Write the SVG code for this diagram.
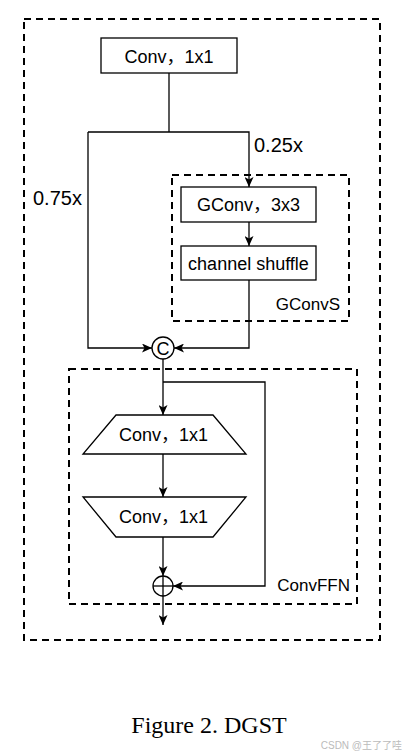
<svg xmlns="http://www.w3.org/2000/svg" width="406" height="756" viewBox="0 0 406 756">
<style>
.bg{fill:#fff}
.box{fill:#fff;stroke:#000;stroke-width:1.3}
.dash{fill:none;stroke:#000;stroke-width:2;stroke-dasharray:7 5}
.ln{fill:none;stroke:#000;stroke-width:1.3}
.t{font-family:"Liberation Sans","Noto Sans CJK SC",Arial,sans-serif;font-size:18px;fill:#000}
.s{font-family:"Liberation Sans",Arial,sans-serif;font-size:17px;fill:#000}
.lbl{font-family:"Liberation Sans",Arial,sans-serif;font-size:20px;fill:#000}
.cap{font-family:"Liberation Serif","Times New Roman",serif;font-size:24px;fill:#000}
.wm{font-family:"Liberation Sans","Noto Sans CJK SC",sans-serif;font-size:10px;fill:#bbb}
</style>
<defs>
<marker id="ah" markerUnits="userSpaceOnUse" markerWidth="10" markerHeight="9" refX="10" refY="4.5" orient="auto">
<path d="M0,0 L10,4.5 L0,9 L2.5,4.5 z" fill="#000"/>
</marker>
</defs>
<rect class="bg" x="0" y="0" width="406" height="756"/>
<g id="outer"><rect class="dash" x="24" y="19" width="356" height="621"/></g>
<g id="gconvs-group"><rect class="dash" x="172" y="175" width="177" height="146"/><text class="s" x="340" y="310" text-anchor="end">GConvS</text></g>
<g id="convffn-group"><rect class="dash" x="69" y="369" width="288" height="235"/><text class="s" x="350" y="591" text-anchor="end">ConvFFN</text></g>
<g id="connectors">
<line class="ln" x1="169" y1="73" x2="169" y2="132"/>
<polyline class="ln" points="88,132 249,132 249,187" marker-end="url(#ah)"/>
<polyline class="ln" points="88,132 88,348 152,348" marker-end="url(#ah)"/>
<line class="ln" x1="249" y1="222" x2="249" y2="246" marker-end="url(#ah)"/>
<polyline class="ln" points="249,280 249,348 174,348" marker-end="url(#ah)"/>
<line class="ln" x1="163" y1="359" x2="163" y2="415" marker-end="url(#ah)"/>
<polyline class="ln" points="163,382 265,382 265,586 173,586" marker-end="url(#ah)"/>
<line class="ln" x1="163" y1="454" x2="163" y2="497" marker-end="url(#ah)"/>
<line class="ln" x1="163" y1="537" x2="163" y2="576" marker-end="url(#ah)"/>
<line class="ln" x1="163" y1="596" x2="163" y2="625" marker-end="url(#ah)"/>
<text class="lbl" x="254" y="152">0.25x</text>
<text class="lbl" x="33" y="205">0.75x</text>
</g>
<g id="conv-top"><rect class="box" x="101" y="38" width="136" height="35"/><text class="t" x="169" y="63" text-anchor="middle">Conv，1x1</text></g>
<g id="gconv"><rect class="box" x="181" y="187" width="135" height="35"/><text class="t" x="248.5" y="211" text-anchor="middle">GConv，3x3</text></g>
<g id="shuffle"><rect class="box" x="181" y="246" width="135" height="34"/><text class="t" x="248.5" y="270" text-anchor="middle">channel shuffle</text></g>
<g id="concat"><circle class="box" cx="163" cy="348" r="11"/><text class="t" x="163" y="355" text-anchor="middle" font-size="20">C</text></g>
<g id="ffn-conv1"><polygon class="box" points="116,415 213,415 246,454 83,454"/><text class="t" x="163.5" y="441" text-anchor="middle">Conv，1x1</text></g>
<g id="ffn-conv2"><polygon class="box" points="83,497 246,497 213,537 116,537"/><text class="t" x="163.5" y="523" text-anchor="middle">Conv，1x1</text></g>
<g id="add"><circle class="box" cx="163" cy="586" r="10"/><line class="ln" x1="153" y1="586" x2="173" y2="586"/><line class="ln" x1="163" y1="576" x2="163" y2="596"/></g>
<text class="cap" x="209" y="733" text-anchor="middle">Figure 2. DGST</text>
<text class="wm" x="402" y="749" text-anchor="end">CSDN @王了了哇</text>
</svg>
